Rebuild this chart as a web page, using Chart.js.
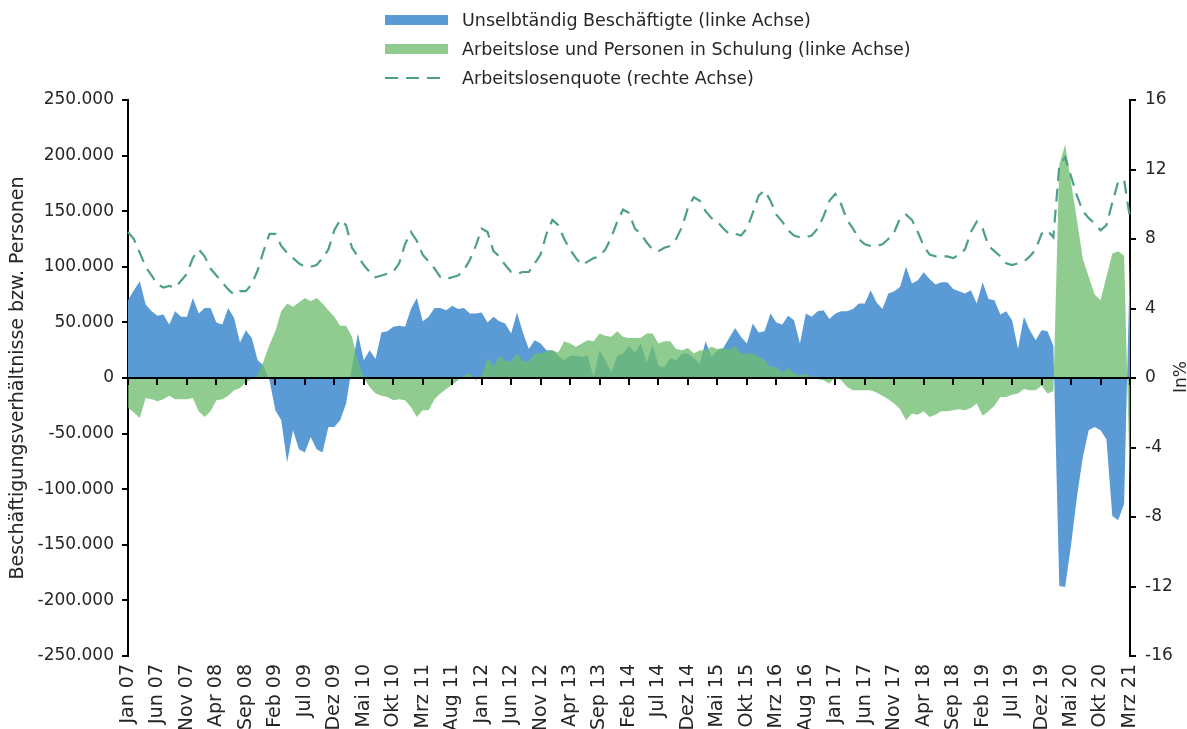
<!DOCTYPE html>
<html>
<head>
<meta charset="utf-8">
<script src="https://cdn.jsdelivr.net/npm/chart.js@4.4.1/dist/chart.umd.min.js"></script>
<style>
  body { margin: 0; background: #fff; }
  #wrap { position: relative; width: 1187px; height: 729px; }
  #legend { position: absolute; left: 385px; top: 5px; font: 17.5px "DejaVu Sans", sans-serif; color: #262626; }
  #legend .row { height: 29px; display: flex; align-items: center; }
  #legend .sw { width: 63px; height: 10px; margin-right: 14px; flex: none; }
  #unit { position: absolute; left: 1180px; top: 377px; font: 17px "DejaVu Sans", sans-serif; color: #262626;
          transform: translate(-50%, -50%) rotate(-90deg); white-space: nowrap; }
</style>
</head>
<body>
<div id="wrap">
  <canvas id="c"></canvas>
  <div id="legend">
    <div class="row"><span class="sw" style="background:#5B9BD5"></span>Unselbtändig Beschäftigte (linke Achse)</div>
    <div class="row"><span class="sw" style="background:#8FCB8F"></span>Arbeitslose und Personen in Schulung (linke Achse)</div>
    <div class="row"><svg class="sw" width="63" height="10"><line x1="0" y1="5" x2="63" y2="5" stroke="#4E9F8A" stroke-width="2" stroke-dasharray="13 8"/></svg>Arbeitslosenquote (rechte Achse)</div>
  </div>
  <div id="unit">In%</div>
</div>
<script>
const months = ['Jan', 'Feb', 'Mrz', 'Apr', 'Mai', 'Jun', 'Jul', 'Aug', 'Sep', 'Okt', 'Nov', 'Dez'];
// Jan 07 .. Mrz 21, one per month
const categories = [];
for (let i = 0; i < 171; i++) {
    categories.push(months[i % 12] + ' ' + String(7 + Math.floor(i / 12)).padStart(2, '0'));
}

// change vs. previous year, in 1.000 persons
const employed = [
    70, 79, 87, 66, 60, 56, 57, 48, 60, 55,
    55, 72, 58, 63, 63, 50, 48, 63, 54, 32,
    43, 36, 16, 11, -2, -29, -38, -76, -47, -64,
    -67, -53, -64, -67, -44, -44, -38, -23, 10, 40,
    16, 25, 17, 41, 42, 46, 47, 46, 62, 72,
    51, 55, 63, 63, 61, 65, 62, 63, 58, 58,
    59, 50, 55, 51, 49, 40, 59, 41, 26, 34,
    31, 25, 25, 20, 16, 20, 20, 19, 20, 1,
    25, 16, 5, 20, 22, 29, 23, 31, 14, 30,
    11, 10, 18, 16, 22, 22, 18, 13, 33, 19,
    25, 27, 36, 45, 37, 31, 49, 41, 42, 58,
    50, 48, 56, 52, 31, 58, 55, 60, 61, 53,
    58, 60, 60, 62, 67, 67, 79, 68, 62, 76,
    78, 82, 100, 85, 88, 95, 89, 84, 86, 86,
    80, 78, 76, 79, 67, 86, 71, 70, 57, 60,
    52, 26, 55, 43, 34, 43, 42, 29, -187, -188,
    -150, -107, -71, -47, -44, -47, -55, -124, -128, -113,
    110
];
const unemployed = [
    -27, -31, -36, -18, -19, -21, -19, -16, -19, -19,
    -19, -18, -30, -35, -30, -20, -19, -16, -11, -9,
    -4, -1, 3, 15, 30, 42, 60, 67, 64, 68,
    72, 69, 72, 67, 61, 55, 47, 47, 37, 15,
    0, -8, -14, -16, -17, -20, -19, -20, -26, -35,
    -29, -29, -19, -14, -10, -6, -2, 2, 4, -2,
    2, 18, 10, 20, 15, 15, 22, 15, 15, 22,
    22, 24, 25, 23, 33, 31, 28, 31, 34, 33,
    40, 38, 37, 42, 37, 36, 36, 36, 40, 40,
    31, 33, 33, 26, 25, 27, 22, 25, 25, 28,
    26, 27, 25, 29, 22, 22, 22, 19, 16, 10,
    10, 5, 9, 4, 2, 4, 0, -1, -2, -5,
    1, -2, -8, -11, -11, -11, -11, -13, -16, -19,
    -23, -28, -38, -32, -33, -30, -35, -33, -30, -30,
    -29, -28, -29, -27, -23, -34, -30, -25, -17, -17,
    -15, -14, -10, -11, -11, -7, -14, -12, 192, 210,
    176, 142, 107, 91, 75, 70, 91, 112, 114, 110,
    -100
];
// in %
const rate = [
    8.4, 8.0, 7.2, 6.4, 5.9, 5.4, 5.2, 5.3, 5.2, 5.6,
    6.0, 6.9, 7.4, 7.0, 6.3, 5.9, 5.5, 5.1, 4.8, 5.0,
    5.0, 5.4, 6.2, 7.3, 8.3, 8.3, 7.6, 7.2, 6.9, 6.6,
    6.4, 6.4, 6.5, 6.9, 7.4, 8.5, 9.1, 8.8, 7.5, 7.0,
    6.5, 6.1, 5.8, 5.9, 6.0, 6.1, 6.6, 7.7, 8.4, 7.9,
    7.1, 6.7, 6.3, 5.8, 5.7, 5.8, 5.9, 6.2, 6.8, 7.6,
    8.6, 8.4, 7.3, 7.0, 6.5, 6.1, 6.0, 6.1, 6.1, 6.6,
    7.1, 8.3, 9.1, 8.8, 8.0, 7.4, 6.9, 6.5, 6.7, 6.9,
    7.0, 7.4, 8.1, 9.0, 9.7, 9.5, 8.6, 8.3, 7.8, 7.4,
    7.3, 7.5, 7.6, 8.0, 8.7, 9.8, 10.4, 10.2, 9.6, 9.2,
    9.0, 8.6, 8.3, 8.3, 8.2, 8.6, 9.5, 10.5, 10.8, 10.2,
    9.4, 9.0, 8.5, 8.2, 8.1, 8.1, 8.2, 8.6, 9.3, 10.2,
    10.6, 10.0, 9.1, 8.6, 8.0, 7.7, 7.6, 7.6, 7.7, 8.0,
    8.4, 9.2, 9.4, 9.1, 8.4, 7.6, 7.1, 7.0, 7.0, 7.0,
    6.9, 7.1, 7.4, 8.4, 9.0, 8.6, 7.6, 7.3, 7.0, 6.6,
    6.5, 6.6, 6.7, 7.0, 7.4, 8.3, 8.5, 8.1, 12.2, 12.7,
    11.6, 10.5, 9.6, 9.2, 8.9, 8.5, 8.8, 10.1, 11.3, 11.4,
    9.2
];

const leftTicks = [-250000, 250000, 50000];
const rightTicks = [-16, 16, 4];

function fmtThousands(v) {
    const s = Math.abs(v).toString().replace(/\B(?=(\d{3})+(?!\d))/g, '.');
    return (v < 0 ? '-' : '') + s;
}

// black zero line with the small category ticks hanging below it
const zeroLine = {
    id: 'zeroLine',
    afterDatasetsDraw(chart) {
        const { ctx, chartArea, scales } = chart;
        const y0 = Math.round(scales.y.getPixelForValue(0));
        ctx.save();
        ctx.strokeStyle = '#000';
        ctx.lineWidth = 2;
        ctx.beginPath();
        ctx.moveTo(chartArea.left, y0);
        ctx.lineTo(chartArea.right, y0);
        for (let i = 0; i < categories.length; i += 5) {
            const x = Math.round(scales.x.getPixelForValue(i));
            ctx.moveTo(x, y0);
            ctx.lineTo(x, y0 + 7);
        }
        ctx.stroke();
        ctx.restore();
    }
};

const config = {
    type: 'line',
    data: {
        labels: categories,
        datasets: [
            {
                label: 'Arbeitslosenquote (rechte Achse)',
                data: rate,
                yAxisID: 'y1',
                borderColor: '#4E9F8A',
                borderWidth: 2.2,
                borderDash: [13, 8],
                pointRadius: 0,
                fill: false,
                order: 0
            },
            {
                label: 'Arbeitslose und Personen in Schulung (linke Achse)',
                data: unemployed.map(v => v * 1000),
                yAxisID: 'y',
                backgroundColor: 'rgba(110, 188, 110, 0.77)',
                borderWidth: 0,
                pointRadius: 0,
                fill: 'origin',
                order: 1
            },
            {
                label: 'Unselbtändig Beschäftigte (linke Achse)',
                data: employed.map(v => v * 1000),
                yAxisID: 'y',
                backgroundColor: '#5B9BD5',
                borderWidth: 0,
                pointRadius: 0,
                fill: 'origin',
                order: 2
            }
        ]
    },
    options: {
        responsive: true,
        maintainAspectRatio: false,
        animation: false,
        layout: { padding: { top: 100 } },
        elements: { line: { tension: 0 } },
        plugins: {
            legend: { display: false },
            tooltip: { enabled: false }
        },
        scales: {
            x: {
                grid: { display: false, drawTicks: false },
                border: { display: false },
                ticks: {
                    autoSkip: false,
                    minRotation: 90,
                    maxRotation: 90,
                    padding: 8,
                    color: '#262626',
                    font: { family: 'DejaVu Sans', size: 19 },
                    callback: function(value, index) {
                        return index % 5 === 0 ? this.getLabelForValue(value) : null;
                    }
                },
                afterFit: scale => { scale.height = 73; }
            },
            y: {
                position: 'left',
                min: leftTicks[0],
                max: leftTicks[1],
                grid: { drawOnChartArea: false, color: '#000', lineWidth: 2, tickLength: 6 },
                border: { color: '#000', width: 2 },
                ticks: {
                    stepSize: leftTicks[2],
                    color: '#262626',
                    font: { family: 'DejaVu Sans', size: 17 },
                    padding: 8,
                    callback: v => fmtThousands(v)
                },
                title: {
                    display: true,
                    text: 'Beschäftigungsverhältnisse bzw. Personen',
                    color: '#262626',
                    font: { family: 'DejaVu Sans', size: 19 },
                    padding: { top: 7, bottom: 0 }
                },
                afterFit: scale => { scale.width = 128; }
            },
            y1: {
                position: 'right',
                min: rightTicks[0],
                max: rightTicks[1],
                grid: { drawOnChartArea: false, color: '#000', lineWidth: 2, tickLength: 6 },
                border: { color: '#000', width: 2 },
                ticks: {
                    stepSize: rightTicks[2],
                    color: '#262626',
                    font: { family: 'DejaVu Sans', size: 17 },
                    padding: 9
                },
                afterFit: scale => { scale.width = 57; }
            }
        }
    },
    plugins: [zeroLine]
};

new Chart(document.getElementById('c'), config);
</script>
</body>
</html>
